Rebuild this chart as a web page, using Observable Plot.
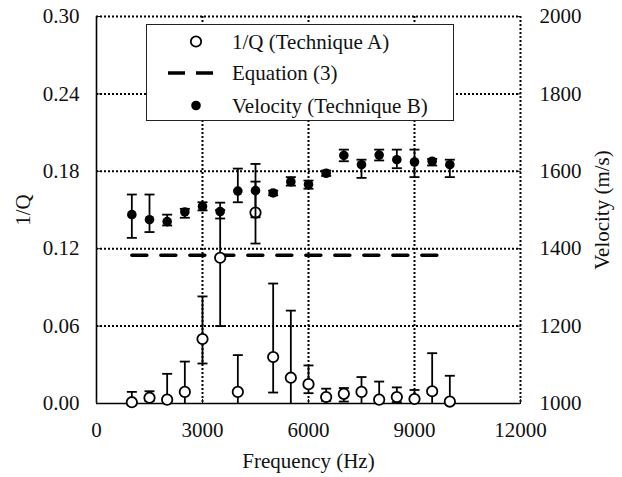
<!DOCTYPE html>
<html><head><meta charset="utf-8">
<script src="https://cdn.jsdelivr.net/npm/d3@7"></script>
<script src="https://cdn.jsdelivr.net/npm/@observablehq/plot@0.6"></script>
<style>
body{margin:0;background:#fff;}
#wrap{position:relative;width:622px;height:477px;}
#wrap svg{display:block;}
#wrap svg text{font-family:"Liberation Serif","Times New Roman",Tinos,"DejaVu Serif",serif !important;}
#legend{position:absolute;left:146px;top:24px;}
</style></head>
<body><div id="wrap"></div>
<script>
// ---- data ----
const freq = [1000,1500,2000,2500,3000,3500,4000,4500,5000,5500,6000,6500,7000,7500,8000,8500,9000,9500,10000];
const invQ   = [0.001,0.0045,0.003,0.009,0.050,0.113,0.009,0.148,0.036,0.020,0.015,0.005,0.0075,0.009,0.003,0.005,0.0035,0.0095,0.0015];
const invQLo = [0,0.002,0,0,0.031,0.060,0,0.124,0.0085,0,0.008,0.002,0.0015,0,0,0.001,0,0,0];
const invQHi = [0.009,0.0095,0.023,0.0325,0.083,0.150,0.0375,0.172,0.093,0.072,0.0295,0.0115,0.012,0.0205,0.017,0.0125,0.0105,0.039,0.0215];
const vel   = [1488,1475,1470,1495,1509,1496,1549,1550,1544,1573,1566,1595,1641,1617,1642,1630,1624,1626,1617];
const velLo = [1428,1443,1460,1480,1499,1478,1520,1481,1538,1563,1555,1588,1626,1583,1628,1608,1585,1615,1585];
const velHi = [1540,1540,1488,1503,1520,1519,1607,1619,1550,1585,1576,1602,1656,1630,1656,1656,1656,1632,1630];
const eqX = [1000, 10000];
const eqY = [0.115, 0.115];
const xTicks = [0,3000,6000,9000,12000];
const yTicks = [0,0.06,0.12,0.18,0.24,0.30];
const velTicks = [1000,1200,1400,1600,1800,2000];
const legendLabels = ["1/Q (Technique A)","Equation (3)","Velocity (Technique B)"];

// velocity axis maps 1000..2000 onto 0..0.30
const vToY = v => (v - 1000) / 1000 * 0.30;
const yToV = y => String(Math.round(1000 + y / 0.30 * 1000));

const qData = freq.map((f,i) => ({f, q: invQ[i], lo: invQLo[i], hi: invQHi[i]}));
const vData = freq.map((f,i) => ({f, v: vToY(vel[i]), lo: vToY(velLo[i]), hi: vToY(velHi[i])}));
const eqData = eqX.map((x,i) => ({x, y: eqY[i]}));

const cap = {draw(ctx, size){ const r = Math.sqrt(size/Math.PI); ctx.moveTo(-r,0); ctx.lineTo(r,0); }};
const dotted = {stroke:"#000", strokeWidth:2, strokeDasharray:"2,2"};

const chart = Plot.plot({
  width: 622, height: 477,
  marginLeft: 96, marginRight: 102, marginTop: 16, marginBottom: 74,
  style: {fontSize: "21px", color: "#111", background: "#fff"},
  x: {domain: [0, 12000]},
  y: {domain: [0, 0.30]},
  marks: [
    Plot.ruleY(yTicks.slice(1), dotted),
    Plot.ruleX(xTicks.slice(1), dotted),
    Plot.ruleX([0], {stroke:"#000", strokeWidth:1.6}),
    Plot.ruleY([0], {stroke:"#000", strokeWidth:1.6}),
    Plot.axisX({ticks: xTicks, tickSize: -4, tickPadding: 23, tickFormat: d => String(d), label: "Frequency (Hz)", labelAnchor: "center", labelArrow: "none", labelOffset: 64}),
    Plot.axisY({anchor: "left", ticks: yTicks, tickSize: -4, tickPadding: 21, tickFormat: d3.format(".2f"), label: "1/Q", labelAnchor: "center", labelArrow: "none", labelOffset: 81}),
    Plot.axisY({anchor: "right", ticks: velTicks.map(vToY), tickSize: -4, tickPadding: 23, tickFormat: yToV, label: "Velocity (m/s)", labelAnchor: "center", labelArrow: "none", labelOffset: 88}),
    // 1/Q error bars
    Plot.ruleX(qData, {x: "f", y1: "lo", y2: "hi", stroke: "#000", strokeWidth: 1.8}),
    Plot.dot(qData, {x: "f", y: "hi", symbol: cap, r: 5, stroke: "#000", strokeWidth: 1.8}),
    Plot.dot(qData.filter(d => d.lo > 0), {x: "f", y: "lo", symbol: cap, r: 5, stroke: "#000", strokeWidth: 1.8}),
    // Equation (3)
    Plot.line(eqData, {x: "x", y: "y", stroke: "#000", strokeWidth: 3.5, strokeDasharray: "15,14"}),
    // 1/Q points
    Plot.dot(qData, {x: "f", y: "q", r: 5.2, fill: "#fff", stroke: "#000", strokeWidth: 1.8}),
    // velocity error bars + points
    Plot.ruleX(vData, {x: "f", y1: "lo", y2: "hi", stroke: "#000", strokeWidth: 1.8}),
    Plot.dot(vData, {x: "f", y: "hi", symbol: cap, r: 5, stroke: "#000", strokeWidth: 1.8}),
    Plot.dot(vData, {x: "f", y: "lo", symbol: cap, r: 5, stroke: "#000", strokeWidth: 1.8}),
    Plot.dot(vData, {x: "f", y: "v", r: 4.8, fill: "#000"})
  ]
});
const wrap = document.getElementById("wrap");
wrap.appendChild(chart);

// legend overlay
const lg = d3.select(wrap).append("svg").attr("id","legend").attr("width",309).attr("height",98)
  .style("font-size","21px");
lg.append("rect").attr("x",0.5).attr("y",0.5).attr("width",307).attr("height",96).attr("fill","#fff").attr("stroke","#222").attr("stroke-width",1);
const rowY = [17.5, 49, 81.5];
legendLabels.forEach((t,i) => {
  const g = lg.append("g").attr("transform",`translate(0,${rowY[i]})`);
  if (i === 0) g.append("circle").attr("cx",50).attr("r",5.2).attr("fill","#fff").attr("stroke","#000").attr("stroke-width",1.8);
  if (i === 1) g.append("line").attr("x1",22).attr("x2",67).attr("stroke","#000").attr("stroke-width",3.5).attr("stroke-dasharray","17,11");
  if (i === 2) g.append("circle").attr("cx",50).attr("r",4.8).attr("fill","#000");
  g.append("text").attr("x",86).attr("dy","0.35em").attr("fill","#111").text(t);
});
</script>
</body></html>
